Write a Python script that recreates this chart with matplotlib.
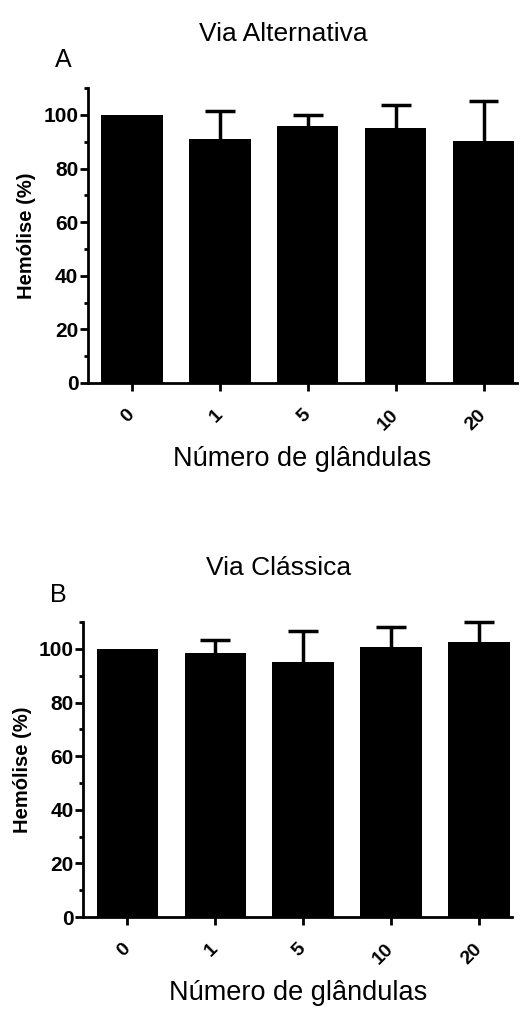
import numpy as np
import matplotlib
matplotlib.use("Agg")
import matplotlib.pyplot as plt
from matplotlib.ticker import MultipleLocator

plt.rcParams["font.family"] = ["Liberation Sans", "DejaVu Sans"]

# hemolysis (% of control) per number of glands
glands = ["0", "1", "5", "10", "20"]
alt_mean = [100.0, 91.0, 95.9, 95.0, 90.4]
alt_err = [0.0, 10.5, 4.0, 8.7, 14.8]
cla_mean = [100.0, 98.4, 95.0, 100.8, 102.6]
cla_err = [0.0, 4.8, 11.7, 7.4, 7.5]


def draw_panel(ax, means, errs, title, letter):
    x = np.arange(len(glands))
    means = np.asarray(means)
    errs = np.asarray(errs)
    ax.bar(x, means, width=0.7, color="black", edgecolor="black", linewidth=0)

    # upper error bars only (SD above the mean)
    has_err = errs > 0
    tops = means + errs
    ax.vlines(x[has_err], means[has_err], tops[has_err], color="black",
              linewidth=2.5, clip_on=False)
    ax.hlines(tops[has_err], x[has_err] - 0.17, x[has_err] + 0.17,
              color="black", linewidth=2.5, clip_on=False)

    ax.set_xlim(-0.5, 4.38)
    ax.set_ylim(0, 110)
    ax.yaxis.set_major_locator(MultipleLocator(20))
    ax.yaxis.set_minor_locator(MultipleLocator(10))
    ax.set_xticks(x)
    ax.set_xticklabels(glands, rotation=45, ha="right", va="center",
                       rotation_mode="anchor", fontsize=14, fontweight="bold")
    for lab in ax.get_yticklabels():
        lab.set_fontweight("bold")
    ax.tick_params(axis="y", which="major", length=6, width=2, labelsize=15, pad=1)
    ax.tick_params(axis="y", which="minor", length=3, width=2)
    ax.tick_params(axis="x", which="major", length=6, width=2, pad=15)

    for side in ("top", "right"):
        ax.spines[side].set_visible(False)
    for side in ("left", "bottom"):
        ax.spines[side].set_linewidth(2)

    ax.set_ylabel("Hemólise (%)", fontsize=14.5, fontweight="bold", labelpad=5)
    ax.set_xlabel("Número de glândulas", fontsize=19.5, labelpad=9)
    ax.text(0.455, 1.185, title, transform=ax.transAxes, fontsize=19,
            ha="center", va="center")
    ax.text(-0.058, 1.053, letter, transform=ax.transAxes, fontsize=18,
            ha="center", va="bottom")


fig = plt.figure(figsize=(5.25, 10.1), dpi=100)
ax_a = fig.add_axes([0.1676, 0.6208, 0.817, 0.292])
ax_b = fig.add_axes([0.159, 0.092, 0.817, 0.292])

draw_panel(ax_a, alt_mean, alt_err, "Via Alternativa", "A")
draw_panel(ax_b, cla_mean, cla_err, "Via Clássica", "B")

fig.savefig("out.png", dpi=100)
